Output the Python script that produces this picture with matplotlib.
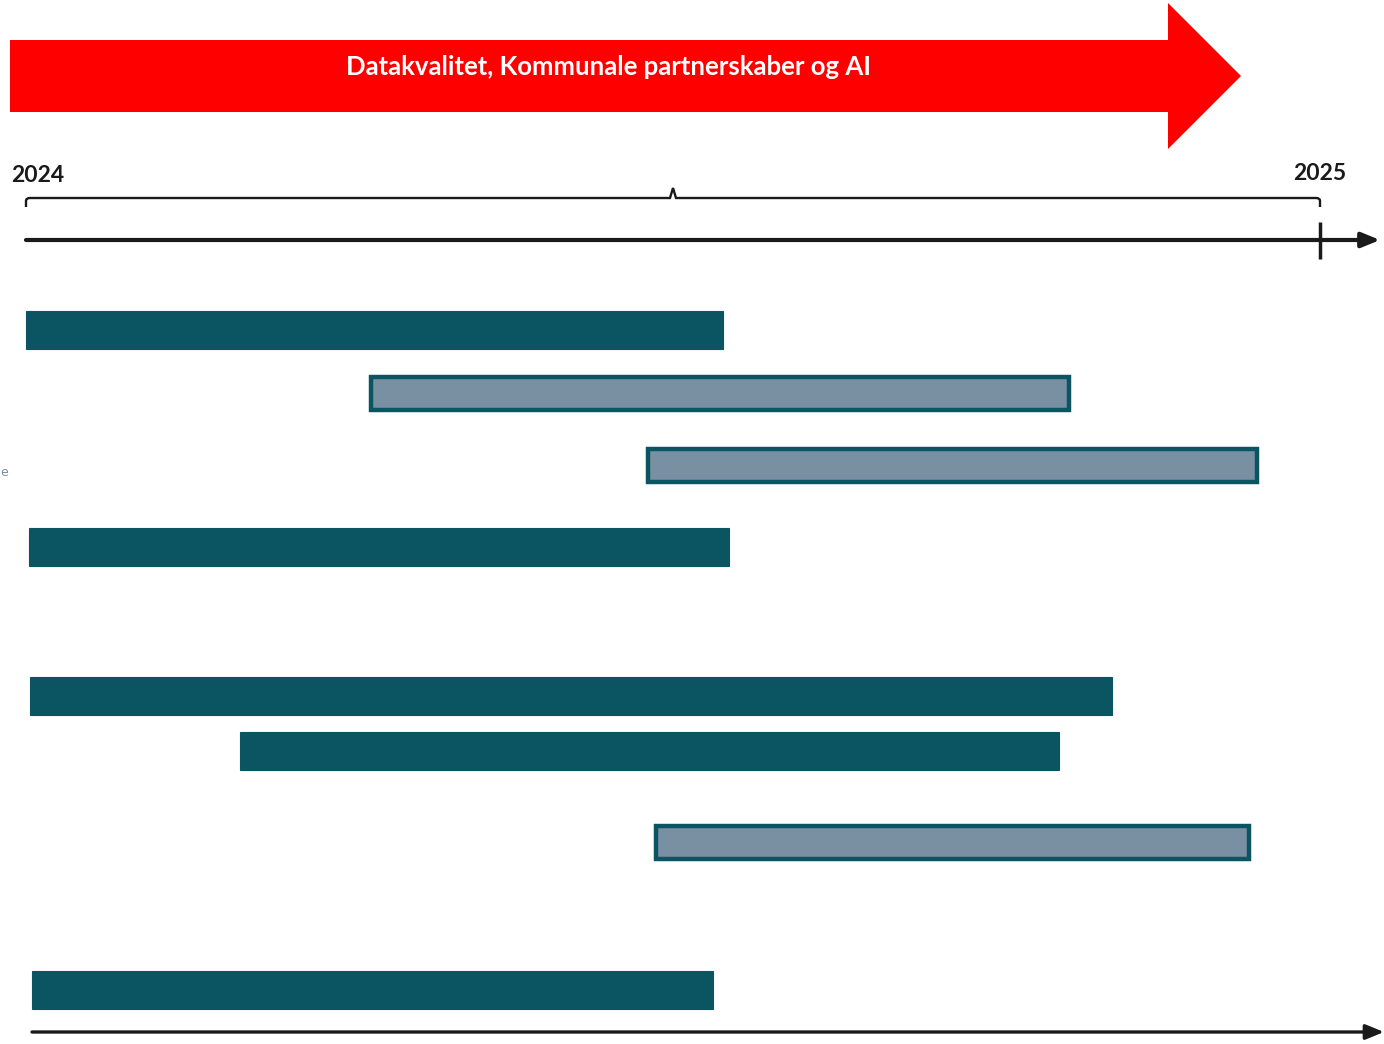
# -*- coding: utf-8 -*-
"""
Roadmap 2024-2025: Datakvalitet, Kommunale partnerskaber og AI.
"""
import matplotlib
matplotlib.use('Agg')
import matplotlib.pyplot as plt
from matplotlib.patches import Polygon, PathPatch
from matplotlib.path import Path

# Data: start and end of each activity as fraction of the year 2024 -> 2025
starts = [0.000, 0.267, 0.481, 0.002, 0.003, 0.165, 0.487, 0.005]
ends = [0.539, 0.806, 0.951, 0.543, 0.839, 0.798, 0.945, 0.531]
kinds = ['solid', 'outline', 'outline', 'solid', 'solid', 'solid', 'outline', 'solid']
banner_text = 'Datakvalitet, Kommunale partnerskaber og AI'
year_labels = ['2024', '2025']

# Layout (pixel rows of each bar, figure is 1384 x 1044)
rows = [330, 393, 465, 547, 696, 751, 842, 990]
W, H = 1384, 1044
X0, YEAR = 26, 1294  # pixel of 2024 and pixel length of one year

dark = '#0b5563'
grey = '#798fa2'
ink = '#1a1a1a'


def px(x):
    # pixel x -> fraction of year
    return (x - X0) / YEAR


fig = plt.figure(figsize=(W / 100, H / 100), dpi=100)
ax = fig.add_axes([0, 0, 1, 1])
ax.set_xlim(px(0), px(W))
ax.set_ylim(H, 0)
ax.axis('off')

# Red banner arrow
banner = Polygon([(px(10), 40), (px(1168), 40), (px(1168), 3), (px(1241), 76),
                  (px(1168), 149), (px(1168), 112), (px(10), 112)],
                 closed=True, facecolor='#ff0000', edgecolor='none')
ax.add_patch(banner)
ax.text(px(608), 67, banner_text, color='white', fontsize=18.5, fontweight='bold',
        family='Lato', ha='center', va='center')

# Year labels
ax.text(px(38), 175, year_labels[0], fontsize=16.5, fontweight='bold', family='Lato',
        ha='center', va='center', color=ink)
ax.text(px(1320), 174, year_labels[1], fontsize=16.5, fontweight='bold', family='Lato',
        ha='center', va='center', color=ink)

# Bracket above the timeline, with a small peak in the middle
verts = [(px(26), 207), (px(26), 201), (px(26), 198), (px(30), 198),
         (px(670), 198), (px(673), 188), (px(676), 198),
         (px(1316), 198), (px(1320), 198), (px(1320), 201), (px(1320), 207)]
codes = [Path.MOVETO, Path.LINETO, Path.CURVE3, Path.CURVE3,
         Path.LINETO, Path.LINETO, Path.LINETO,
         Path.LINETO, Path.CURVE3, Path.CURVE3, Path.LINETO]
ax.add_patch(PathPatch(Path(verts, codes), facecolor='none', edgecolor=ink, lw=1.7,
                       joinstyle='miter'))

# Timeline with arrow and year end tick
ax.annotate('', xy=(px(1380), 240), xytext=(px(26), 240),
            arrowprops=dict(arrowstyle='-|>,head_length=1.1,head_width=0.45',
                            color=ink, lw=3, shrinkA=0, shrinkB=0))
ax.plot([px(1320), px(1320)], [222, 259], color=ink, lw=2.5, solid_capstyle='butt')

# Bottom arrow
ax.annotate('', xy=(px(1384), 1032), xytext=(px(32), 1032),
            arrowprops=dict(arrowstyle='-|>,head_length=1.1,head_width=0.45',
                            color=ink, lw=2.4, shrinkA=0, shrinkB=0))

# Activity bars
for s, e, k, y in zip(starts, ends, kinds, rows):
    if k == 'solid':
        ax.barh(y, e - s, left=s, height=38, color=dark, edgecolor=dark, lw=0.8)
    else:
        ax.barh(y, e - s, left=s, height=33, color=grey, edgecolor=dark, lw=3.2)

# small label at the left edge
ax.text(px(0), 472, 'e', fontsize=9, color=grey, ha='left', va='center')

fig.savefig('out.png', dpi=100)
